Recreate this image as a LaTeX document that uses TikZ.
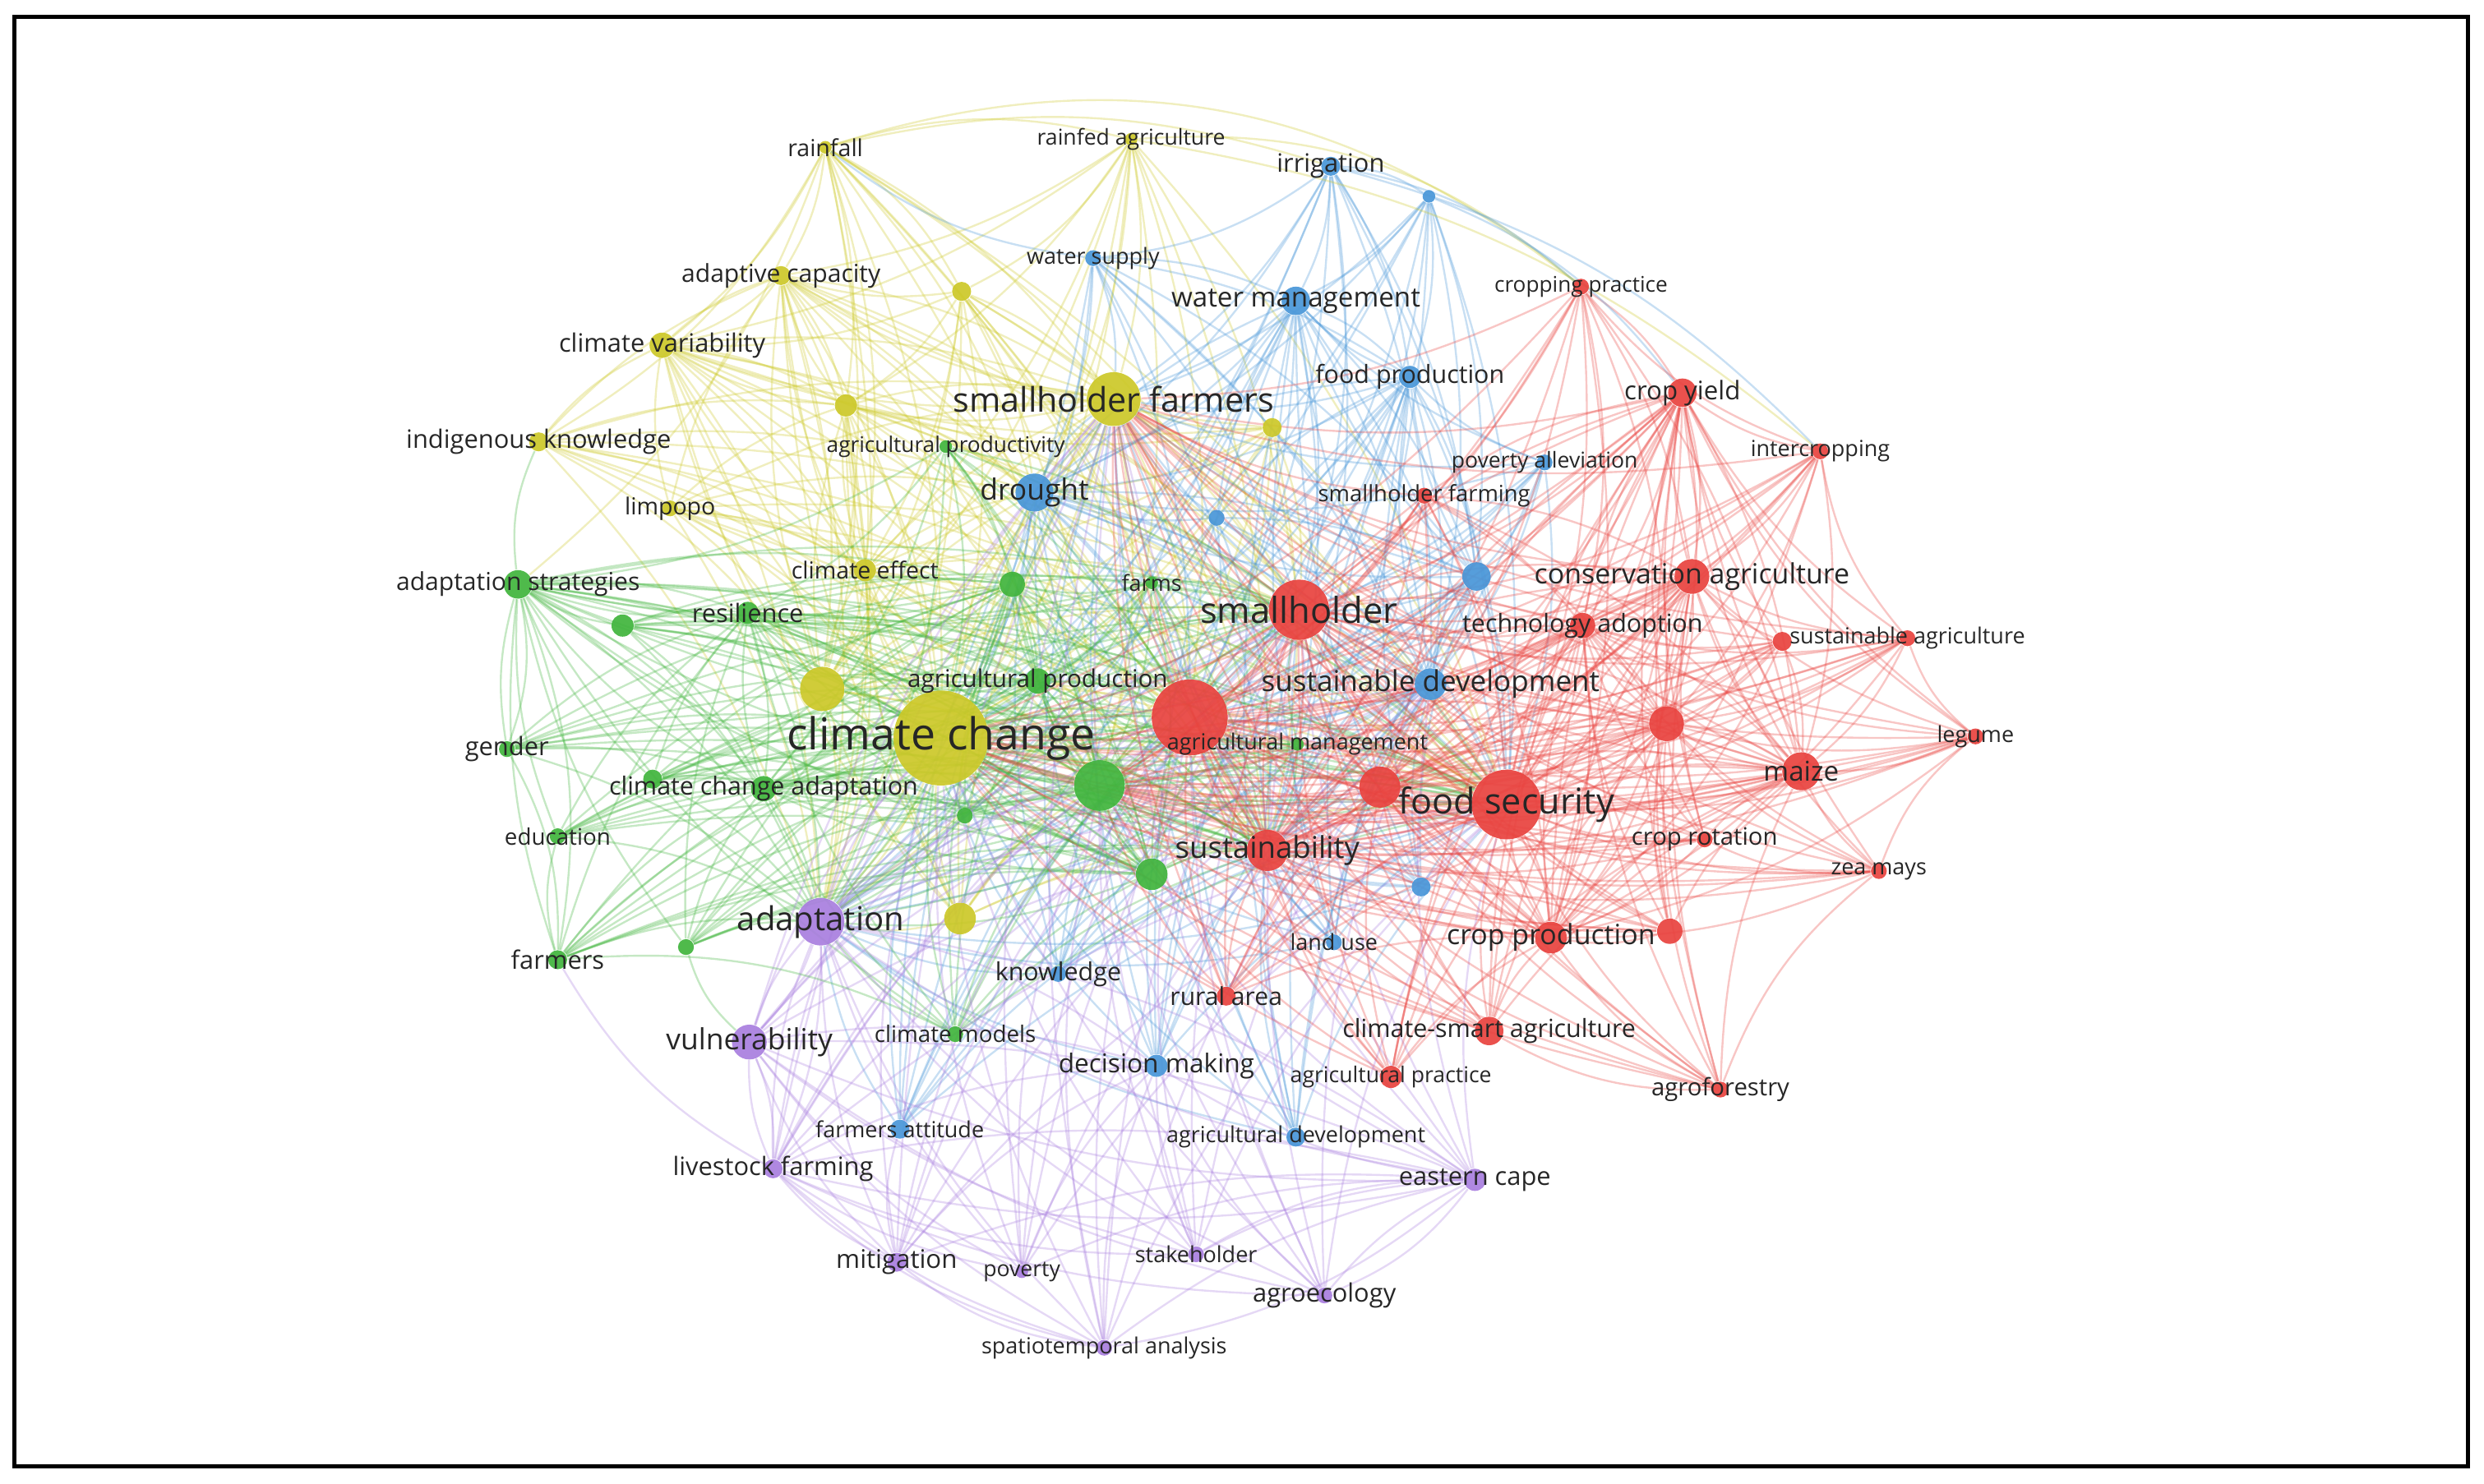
\documentclass[tikz,border=0pt]{standalone}
\usepackage{fontspec}
\setmainfont{Open Sans}
\definecolor{vred}{RGB}{232,66,62}
\definecolor{vgreen}{RGB}{64,180,60}
\definecolor{vyellow}{RGB}{204,200,40}
\definecolor{vblue}{RGB}{72,150,216}
\definecolor{vpurple}{RGB}{168,126,222}
\newcommand\fsz[1]{\fontsize{#1}{#1}\selectfont}
\pgfdeclarelayer{links}
\pgfsetlayers{links,main}
\tikzset{
  kw/.style={circle,inner sep=0pt,draw=none,fill opacity=0.92},
  lab/.style={text=black!85,inner sep=0pt},
  link/.style={line width=0.62pt,draw opacity=0.3},
}

\begin{document}
\begin{tikzpicture}[x=0.5pt,y=-0.5pt]
  \useasboundingbox (0,0) rectangle (1568,937);
  \draw[line width=1.3pt] (9,10.5) rectangle (1558,926);

  % keywords: name/x/y/radius
  \foreach \n/\x/\y/\d in {rf/521/93/4, rfa/714/88/4, adc/493/174/6, y1/607/184/6,
      cv/418/218/8, shf/703/252/17, y2/534/256/7, y3/803/270/6, ik/340/279/6,
      lim/423/321/5, ce/546/360/7, y4/519/435/14, cc/594/466/30, y5/606/580/10}
     \node[kw,fill=vyellow,minimum size=\d pt] (\n) at (\x,\y) {};
  \foreach \n/\x/\y/\d in {irr/840/105/6, b1/902/124/4, ws/690/163/5, wm/818/190/9,
      fp/890/238/7, pa/975/292/5, dr/653/311/12, b2/768/327/5, b3/932/364/9,
      sd/903/432/10, b4/897/560/6, lu/842/595/5, kn/668/615/5, dm/730/673/7,
      fa/568/713/6, agd/818/718/6}
     \node[kw,fill=vblue,minimum size=\d pt] (\n) at (\x,\y) {};
  \foreach \n/\x/\y/\d in {agp/597/282/4, as/327/369/9, g1/639/369/8, fm/727/368/4,
      res/472/387/7, g2/393/395/7, apr/655/430/8, am/819/470/4, gen/320/473/5,
      g3/412/492/6, cca/482/498/8, gb/694/496/16, g4/609/515/5, edu/352/528/5,
      g5/727/552/10, frm/352/606/6, g6/433/598/5, cm/603/653/5}
     \node[kw,fill=vgreen,minimum size=\d pt] (\n) at (\x,\y) {};
  \foreach \n/\x/\y/\d in {ad/518/582/15, vul/473/658/11, lf/488/738/6, mit/566/797/6,
      pov/645/803/4, stk/755/792/5, aec/836/818/5, ec/931/745/7, sta/697/851/5}
     \node[kw,fill=vpurple,minimum size=\d pt] (\n) at (\x,\y) {};
  \foreach \n/\x/\y/\d in {cp/998/181/5, cy/1062/248/9, ic/1149/285/5, shfm/899/313/5,
      ca/1068/364/11, sh/820/385/19, ta/999/395/8, sa/1204/403/5, r1/1125/405/6,
      rb/751/453/24, r2/1052/457/11, leg/1247/465/5, mz/1137/487/12, r3/871/497/13,
      fs/951/508/22, sus/800/537/13, cr/1076/530/5, zm/1186/550/5, cpr/979/592/10,
      r4/1054/588/8, ra/774/629/6, csa/940/651/9, apc/878/680/7, af/1086/688/5}
     \node[kw,fill=vred,minimum size=\d pt] (\n) at (\x,\y) {};

  % co-occurrence links
  \begin{pgfonlayer}{links}
  \foreach \a in {rf,rfa,adc,y1,cv,shf,y2,y3,ik,lim,ce,y4,cc,y5}
    \foreach \b in {cc,shf,y4,cv,adc,ce,y2,dr,sh,rb,gb,ad,fs,sus}
      {\ifx\a\b\else\draw[link,vyellow] (\a) to[bend left=12] (\b);\fi}
  \foreach \a in {irr,b1,ws,wm,fp,pa,dr,b2,b3,sd,b4,lu,kn,dm,fa,agd}
    \foreach \b in {sd,dr,wm,fp,b3,sh,fs,cc,rb,sus,shf,ad}
      {\ifx\a\b\else\draw[link,vblue] (\a) to[bend left=12] (\b);\fi}
  \foreach \a in {agp,as,g1,fm,res,g2,apr,am,gen,g3,cca,gb,g4,edu,g5,frm,g6,cm}
    \foreach \b in {gb,cc,as,res,apr,cca,g5,g1,ad,sh,rb,fs,sus}
      {\ifx\a\b\else\draw[link,vgreen] (\a) to[bend left=12] (\b);\fi}
  \foreach \a in {ad,vul,lf,mit,pov,stk,aec,ec,sta}
    \foreach \b in {ad,vul,cc,sh,fs,rb,gb,sd,lf,ec,dm,shf}
      {\ifx\a\b\else\draw[link,vpurple] (\a) to[bend left=12] (\b);\fi}
  \foreach \a in {cp,cy,ic,shfm,ca,sh,ta,sa,r1,rb,r2,leg,mz,r3,fs,sus,cr,zm,cpr,r4,ra,csa,apc,af}
    \foreach \b in {sh,rb,fs,sus,ca,mz,cy,cpr,r3,r2,ta,cc,shf,gb}
      {\ifx\a\b\else\draw[link,vred] (\a) to[bend left=12] (\b);\fi}
  % outer arcs
  \foreach \a/\b in {rf/irr, rf/rfa, rfa/ic, rf/ik, rf/as, rfa/y1, rf/y1}
    \draw[link,vyellow] (\a) to[bend left=15] (\b);
  \draw[link,vyellow] (rf) to[bend left=28] (cp);
  \draw[link,vyellow] (rfa) to[bend left=22] (cp);
  \foreach \a/\b in {irr/cp, irr/ic, irr/b1, b1/cy, irr/ws, ws/rf}
    \draw[link,vblue] (\a) to[bend left=15] (\b);
  \foreach \a/\b in {ik/as, frm/as, frm/gen, gen/as, edu/frm, cm/frm, g6/vul}
    \draw[link,vgreen] (\b) to[bend left=15] (\a);
  \foreach \a/\b in {sta/lf, sta/mit, ec/sta, ec/aec, stk/ec, lf/frm, mit/fa}
    \draw[link,vpurple] (\a) to[bend left=15] (\b);
  \foreach \a/\b in {af/zm, zm/leg, leg/sa, sa/ic, ic/cp, af/csa, leg/cy, zm/cr}
    \draw[link,vred] (\a) to[bend left=15] (\b);
  \end{pgfonlayer}

  % labels: name/size/text
  \foreach \n/\s/\t in {rf/7.4/rainfall, rfa/6.9/rainfed agriculture,
      adc/7.8/adaptive capacity, cv/8/climate variability, shf/10.7/smallholder farmers,
      ik/8/indigenous knowledge, lim/7.4/limpopo, ce/7.4/climate effect,
      cc/13.9/climate change,
      irr/8/irrigation, ws/7/water supply, wm/8.6/water management,
      fp/7.9/food production, pa/6.9/poverty alleviation, dr/9.2/drought,
      sd/9.1/sustainable development, lu/7/land use, kn/7.9/knowledge,
      dm/8.2/decision making, fa/7/farmers attitude, agd/7/agricultural development,
      agp/6.8/agricultural productivity, as/7.8/adaptation strategies, fm/7/farms,
      res/8/resilience, apr/7.7/agricultural production, am/7/agricultural management,
      gen/8/gender, cca/7.9/climate change adaptation, edu/7.2/education,
      frm/8/farmers, cm/7.2/climate models,
      ad/10.4/adaptation, vul/9.2/vulnerability, lf/8/livestock farming,
      mit/8.1/mitigation, pov/6.9/poverty, stk/7/stakeholder, aec/8/agroecology,
      ec/8/eastern cape, sta/7/spatiotemporal analysis,
      cp/6.8/cropping practice, cy/8.1/crop yield, ic/7/intercropping,
      shfm/7.1/smallholder farming, ca/8.8/conservation agriculture,
      sh/11.3/smallholder, ta/7.9/technology adoption, sa/7/sustainable agriculture,
      leg/7/legume, mz/8.6/maize, fs/11.2/food security, sus/9.5/sustainability,
      cr/7.6/crop rotation, zm/7/zea mays, cpr/8.8/crop production,
      ra/7.8/rural area, csa/7.9/climate-smart agriculture,
      apc/6.9/agricultural practice, af/7.6/agroforestry}
     \node[lab,font=\fsz{\s}] (\n-l) at (\n) {\t};
\end{tikzpicture}
\end{document}
